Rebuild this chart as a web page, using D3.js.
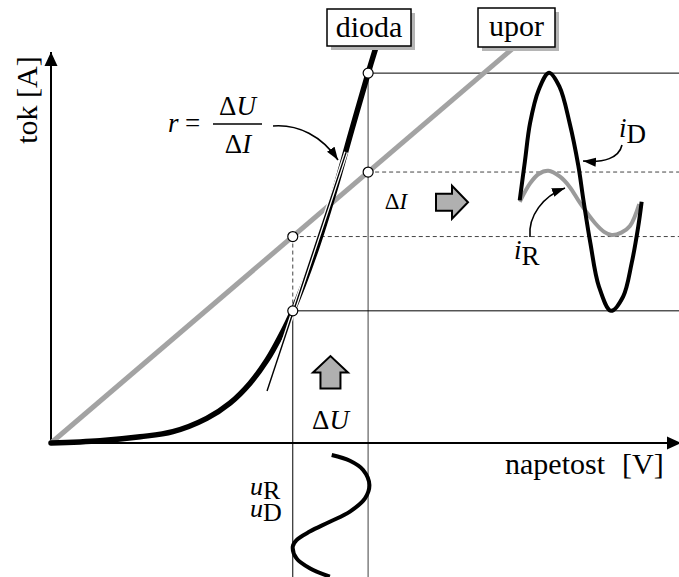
<!DOCTYPE html>
<html>
<head>
<meta charset="utf-8">
<script src="https://cdn.jsdelivr.net/npm/d3@7"></script>
<style>
  body { margin: 0; background: #fff; }
  svg { display: block; }
  text { font-family: "Liberation Serif", "Times New Roman", serif; fill: #000; }
</style>
</head>
<body>
<svg id="chart"></svg>
<script>
// diode I-U characteristic (U, I in arbitrary units 0..10)
const diodeCurve = [
  [0, 0], [0.78, 0.06], [1.42, 0.16], [1.94, 0.29], [2.48, 0.63], [2.85, 1.02],
  [3.17, 1.53], [3.44, 2.12], [3.65, 2.72], [3.85, 3.38], [4.22, 4.94],
  [4.51, 6.42], [4.79, 8.01], [5.05, 9.46], [5.18, 10.15]
];
// resistor characteristic (straight line)
const resistorLine = [[0, 0], [7.36, 10.1]];
// line r = dU/dI drawn through the lower point
const slopeLine = [[3.44, 1.33], [4.70, 7.44]];

// working range of the voltage
const uLow = 3.85;
const uHigh = 5.05;
const diodeAt = [3.38, 9.46];     // diode current at uLow, uHigh
const resistorAt = [5.28, 6.93];  // resistor current at uLow, uHigh

// waveforms, phase in degrees
const iDiode = [
  [5, 6.21], [20, 7.2], [35, 8.18], [60, 9.03], [90, 9.47], [120, 9.12],
  [150, 8.18], [175, 7.1], [190, 6.21], [210, 5.12], [235, 4.0], [270, 3.38],
  [305, 3.74], [330, 4.6], [349, 5.53], [359, 6.17]
];
const iResistor = [
  [5, 6.17], [35, 6.64], [60, 6.88], [88, 6.96], [122, 6.81], [150, 6.55],
  [180, 6.14], [224, 5.62], [250, 5.4], [272, 5.32], [300, 5.38], [325, 5.55], [352, 6.11]
];
const uWave = [
  [0, 4.47], [17, 4.76], [44, 4.97], [88, 5.07], [128, 5.0], [167, 4.76],
  [197, 4.44], [226, 4.12], [251, 3.91], [270, 3.85], [305, 3.91], [334, 4.12], [359, 4.44]
];

const width = 679;
const height = 577;
const SERIF = '"Liberation Serif", "Times New Roman", serif';

const x = d3.scaleLinear().domain([0, 10]).range([51, 679]);
const y = d3.scaleLinear().domain([0, 10]).range([443, 52]);
const phaseX = d3.scaleLinear().domain([0, 360]).range([518, 642]);
const phaseY = d3.scaleLinear().domain([0, 360]).range([455, 577]);

const svg = d3.select("#chart").attr("width", width).attr("height", height);

const defs = svg.append("defs");
defs.append("marker")
  .attr("id", "ah")
  .attr("viewBox", "0 -5 13 10")
  .attr("refX", 13).attr("refY", 0)
  .attr("markerUnits", "userSpaceOnUse")
  .attr("markerWidth", 13).attr("markerHeight", 10)
  .attr("orient", "auto")
  .append("path").attr("d", "M0,-4.5L13,0L0,4.5Z").attr("fill", "#000");
defs.append("marker")
  .attr("id", "axisArrow")
  .attr("viewBox", "0 -7 14 14")
  .attr("refX", 14).attr("refY", 0)
  .attr("markerUnits", "userSpaceOnUse")
  .attr("markerWidth", 14).attr("markerHeight", 14)
  .attr("orient", "auto")
  .append("path").attr("d", "M0,-6.5L14,0L0,6.5Z").attr("fill", "#000");

const line = d3.line().x(d => x(d[0])).y(d => y(d[1]));

// helper lines of the working range
const guides = svg.append("g").attr("fill", "none");
guides.append("line")
  .attr("x1", x(uLow)).attr("x2", x(uLow))
  .attr("y1", y(diodeAt[0])).attr("y2", height)
  .attr("stroke", "#000").attr("stroke-width", 1);
guides.append("line")
  .attr("x1", x(uHigh)).attr("x2", x(uHigh))
  .attr("y1", y(diodeAt[1])).attr("y2", height)
  .attr("stroke", "#888").attr("stroke-width", 1.6);
diodeAt.forEach((v, i) => {
  guides.append("line")
    .attr("x1", x(i ? uHigh : uLow)).attr("x2", width)
    .attr("y1", y(v)).attr("y2", y(v))
    .attr("stroke", "#000").attr("stroke-width", 1);
});
resistorAt.forEach((v, i) => {
  guides.append("line")
    .attr("x1", x(i ? uHigh : uLow)).attr("x2", width)
    .attr("y1", y(v)).attr("y2", y(v))
    .attr("stroke", "#444").attr("stroke-width", 1)
    .attr("stroke-dasharray", "4,3");
});
guides.append("line")
  .attr("x1", x(uLow)).attr("x2", x(uLow))
  .attr("y1", y(resistorAt[0])).attr("y2", y(diodeAt[0]))
  .attr("stroke", "#444").attr("stroke-width", 1)
  .attr("stroke-dasharray", "4,3");

// axes
svg.append("line")
  .attr("x1", x(0)).attr("y1", y(0)).attr("x2", x(0)).attr("y2", y(10))
  .attr("stroke", "#000").attr("stroke-width", 2).attr("marker-end", "url(#axisArrow)");
svg.append("line")
  .attr("x1", x(0)).attr("y1", y(0)).attr("x2", x(10) + 2).attr("y2", y(0))
  .attr("stroke", "#000").attr("stroke-width", 2).attr("marker-end", "url(#axisArrow)");

// characteristics
svg.append("path").datum(resistorLine).attr("d", line)
  .attr("fill", "none").attr("stroke", "#a3a3a3").attr("stroke-width", 5);
svg.append("path").datum(diodeCurve).attr("d", line.curve(d3.curveCatmullRom))
  .attr("fill", "none").attr("stroke", "#000").attr("stroke-width", 5.5)
  .attr("stroke-linecap", "round");
line.curve(d3.curveLinear);
svg.append("path").datum(slopeLine).attr("d", line)
  .attr("fill", "none").attr("stroke", "#fff").attr("stroke-width", 4);
svg.append("path").datum(slopeLine).attr("d", line)
  .attr("fill", "none").attr("stroke", "#000").attr("stroke-width", 1.4);

// working points
const points = [
  [uLow, diodeAt[0]], [uHigh, diodeAt[1]], [uLow, resistorAt[0]], [uHigh, resistorAt[1]]
];
svg.append("g").selectAll("circle").data(points).join("circle")
  .attr("cx", d => x(d[0])).attr("cy", d => y(d[1])).attr("r", 5)
  .attr("fill", "#fff").attr("stroke", "#000").attr("stroke-width", 1.2);

// current waveforms
const waveLine = d3.line().x(d => phaseX(d[0])).y(d => y(d[1])).curve(d3.curveCatmullRom);
svg.append("path").datum(iResistor).attr("d", waveLine)
  .attr("fill", "none").attr("stroke", "#9a9a9a").attr("stroke-width", 4);
svg.append("path").datum(iDiode).attr("d", waveLine)
  .attr("fill", "none").attr("stroke", "#000").attr("stroke-width", 4);

// voltage waveform (time runs downwards)
const uLine = d3.line().x(d => x(d[1])).y(d => phaseY(d[0])).curve(d3.curveCatmullRom);
svg.append("path").datum(uWave).attr("d", uLine)
  .attr("fill", "none").attr("stroke", "#000").attr("stroke-width", 4);

// leader arrows
const leaders = [
  "M273,126 C298,124 322,136 338,160",
  "M622,145 C619,158 604,163 583,161",
  "M530,237 C528,216 543,196 565,188"
];
svg.append("g").selectAll("path").data(leaders).join("path")
  .attr("d", d => d)
  .attr("fill", "none").attr("stroke", "#000").attr("stroke-width", 1.6)
  .attr("marker-end", "url(#ah)");

// block arrows
const uMid = (uLow + uHigh) / 2;
const iMid = (resistorAt[0] + resistorAt[1]) / 2;
svg.append("path")
  .attr("transform", `translate(452,${y(iMid) - 2})`)
  .attr("d", "M-16,-8.5H0V-16.5L16,0L0,16.5V8.5H-16Z")
  .attr("fill", "#b0b0b0").attr("stroke", "#000").attr("stroke-width", 2);
svg.append("path")
  .attr("transform", `translate(${x(uMid)},372.5)`)
  .attr("d", "M-10,16V0H-17.5L0,-16.5L17.5,0H10V16Z")
  .attr("fill", "#b0b0b0").attr("stroke", "#000").attr("stroke-width", 2);

// text helper
function label(px, py, anchor, size) {
  return svg.append("text")
    .attr("x", px).attr("y", py)
    .attr("text-anchor", anchor)
    .attr("font-size", size)
    .attr("font-family", SERIF);
}

// legend boxes
function box(bx, by, bw, bh, txt) {
  svg.append("rect").attr("x", bx + 4).attr("y", by + 4).attr("width", bw).attr("height", bh)
    .attr("fill", "#b5b5b5");
  svg.append("rect").attr("x", bx).attr("y", by).attr("width", bw).attr("height", bh)
    .attr("fill", "#fff").attr("stroke", "#000").attr("stroke-width", 1.5);
  label(bx + bw / 2, by + 28, "middle", 30).text(txt);
}
box(327, 9, 84, 37, "dioda");
box(478, 8, 77, 39, "upor");

// axis titles
svg.append("text")
  .attr("transform", "translate(37,100) rotate(-90)")
  .attr("text-anchor", "middle")
  .attr("font-size", 30)
  .text("tok [A]");
label(505, 474, "start", 30).text("napetost");
label(622, 474, "start", 30).text("[V]");

// formula r = dU / dI
label(168, 132, "start", 27).append("tspan").attr("font-style", "italic").text("r");
label(185, 132, "start", 27).text("=");
svg.append("line").attr("x1", 213).attr("x2", 262).attr("y1", 124).attr("y2", 124)
  .attr("stroke", "#000").attr("stroke-width", 1.5);
const num = label(237.5, 115, "middle", 27);
num.append("tspan").text("Δ");
num.append("tspan").attr("font-style", "italic").text("U");
const den = label(238, 153, "middle", 27);
den.append("tspan").text("Δ");
den.append("tspan").attr("font-style", "italic").text("I");

// delta labels
const dI = label(396, 209, "middle", 23);
dI.append("tspan").text("Δ");
dI.append("tspan").attr("font-style", "italic").text("I");
const dU = label(x(uMid), 429, "middle", 27);
dU.append("tspan").text("Δ");
dU.append("tspan").attr("font-style", "italic").text("U");

// waveform names
function subLabel(px, py, main, sub, size, shift) {
  const t = label(px, py, "start", size);
  t.append("tspan").attr("font-style", "italic").text(main);
  t.append("tspan").attr("dy", shift).text(sub);
}
subLabel(619, 137, "i", "D", 27, 6);
subLabel(514, 259, "i", "R", 27, 6);
subLabel(250, 495, "u", "R", 26, 4);
subLabel(250, 517, "u", "D", 26, 4);
</script>
</body>
</html>
